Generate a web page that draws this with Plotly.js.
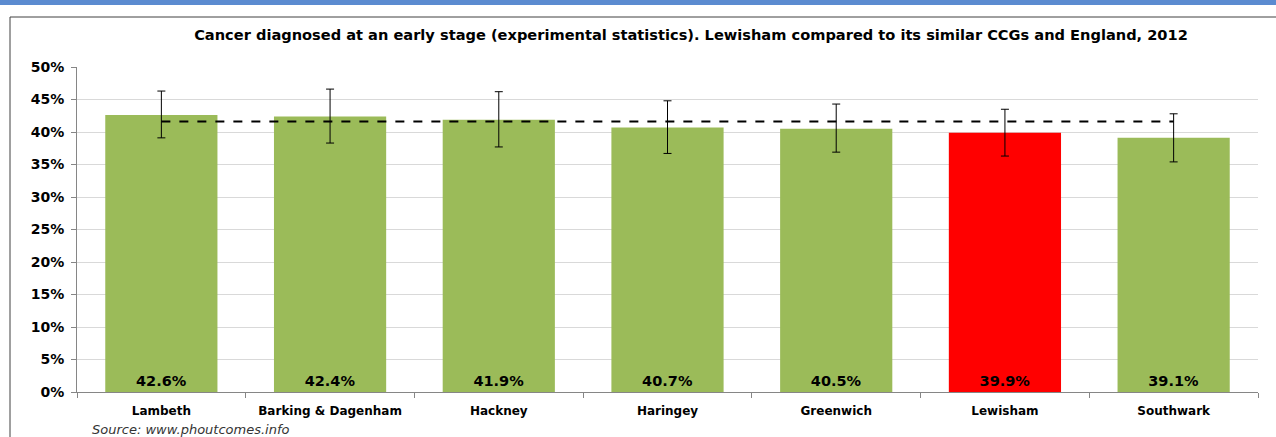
<!DOCTYPE html>
<html>
<head>
<meta charset="utf-8">
<script src="https://cdn.plot.ly/plotly-3.0.1.min.js"></script>
<style>
html,body{margin:0;padding:0;background:#fff;overflow:hidden;}
#chart{width:1276px;height:437px;}
</style>
</head>
<body>
<div id="chart"></div>
<script>
const categories = ["Lambeth","Barking & Dagenham","Hackney","Haringey","Greenwich","Lewisham","Southwark"];
const values = [42.6, 42.4, 41.9, 40.7, 40.5, 39.9, 39.1];
const ciUpper = [46.3, 46.6, 46.2, 44.8, 44.3, 43.5, 42.8];
const ciLower = [39.1, 38.3, 37.7, 36.7, 36.9, 36.3, 35.4];
const englandValue = 41.6;
const highlight = "Lewisham";
const yTicks = [0, 5, 10, 15, 20, 25, 30, 35, 40, 45, 50];

const green = "#9bbb59", red = "#ff0000";
const fontFam = "DejaVu Sans, Verdana, sans-serif";

const barTrace = {
  type: "bar",
  x: categories,
  y: values,
  marker: {color: categories.map(c => c === highlight ? red : green)},
  text: values.map(v => v.toFixed(1) + "%"),
  textposition: "inside",
  insidetextanchor: "start",
  textangle: 0,
  textfont: {family: fontFam, size: 14.5, color: "#000", weight: "bold"},
  error_y: {
    type: "data",
    symmetric: false,
    array: ciUpper.map((u, i) => +(u - values[i]).toFixed(2)),
    arrayminus: ciLower.map((l, i) => +(values[i] - l).toFixed(2)),
    color: "#000",
    thickness: 1,
    width: 4
  },
  hoverinfo: "skip"
};

const englandTrace = {
  type: "scatter",
  mode: "lines",
  x: [categories[0], categories[categories.length - 1]],
  y: [englandValue, englandValue],
  line: {color: "#000", width: 2, dash: "dash"},
  hoverinfo: "skip"
};

const layout = {
  width: 1276,
  height: 437,
  margin: {l: 77, r: 18, t: 67, b: 45},
  paper_bgcolor: "#fff",
  plot_bgcolor: "#fff",
  showlegend: false,
  bargap: 0.335,
  title: {
    text: "Cancer diagnosed at an early stage (experimental statistics). Lewisham compared to its similar CCGs and England, 2012",
    font: {family: fontFam, size: 14.6, color: "#000", weight: "bold"},
    x: 691 / 1276,
    xanchor: "center",
    y: 1 - 35 / 437,
    yanchor: "middle"
  },
  xaxis: {
    type: "category",
    showline: true,
    linecolor: "#868686",
    linewidth: 1,
    ticks: "outside",
    tickson: "boundaries",
    ticklen: 5,
    tickcolor: "#868686",
    showgrid: false,
    ticklabelstandoff: 8,
    tickfont: {family: fontFam, size: 12, color: "#000", weight: "bold"},
    fixedrange: true
  },
  yaxis: {
    range: [0, 50],
    tickvals: yTicks,
    ticktext: yTicks.map(t => t + "%"),
    showline: true,
    linecolor: "#868686",
    linewidth: 1,
    ticks: "outside",
    ticklen: 5,
    tickcolor: "#868686",
    showgrid: true,
    gridcolor: "#d9d9d9",
    gridwidth: 1,
    zeroline: false,
    ticklabelstandoff: 4,
    tickfont: {family: fontFam, size: 14, color: "#000", weight: "bold"},
    fixedrange: true
  },
  shapes: [
    {type: "rect", xref: "paper", yref: "paper",
     x0: (10 - 77) / 1181, x1: 1.2, y0: -0.3, y1: (392 - 17) / 325,
     line: {color: "#404040", width: 1}, fillcolor: "rgba(0,0,0,0)", layer: "below"},
    {type: "rect", xref: "paper", yref: "paper",
     x0: -0.1, x1: 1.1, y0: (392 - 5) / 325, y1: (392 + 10) / 325,
     line: {width: 0}, fillcolor: "#5b8bd0", layer: "below"}
  ],
  annotations: [
    {text: "Source: www.phoutcomes.info", xref: "paper", yref: "paper",
     x: (90 - 77) / 1181, y: (392 - 429) / 325, xanchor: "left", yanchor: "middle",
     showarrow: false,
     font: {family: fontFam, size: 13, color: "#333", style: "italic"}}
  ]
};

Plotly.newPlot("chart", [barTrace, englandTrace], layout, {displayModeBar: false, staticPlot: true});
</script>
</body>
</html>
